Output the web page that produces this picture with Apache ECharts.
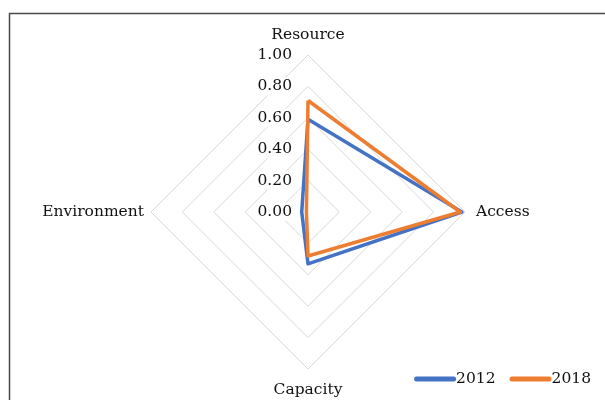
<!DOCTYPE html>
<html>
<head>
<meta charset="utf-8">
<script src="https://cdn.jsdelivr.net/npm/echarts@6/dist/echarts.min.js"></script>
<style>
html,body{margin:0;padding:0;background:#fff;}
#chart{width:605px;height:400px;}
</style>
</head>
<body>
<div id="chart"></div>
<script>
// categories in clockwise order starting from the top
const categories = ['Resource', 'Access', 'Capacity', 'Environment'];
const values2012 = [0.59, 0.98, 0.33, 0.04];
const values2018 = [0.71, 0.97, 0.28, 0.01];
const seriesNames = ['2012', '2018'];
const tickLabels = ['0.00', '0.20', '0.40', '0.60', '0.80', '1.00'];

// ECharts places indicators counter-clockwise; reorder to get clockwise layout
const order = [0, 3, 2, 1];
const ordered = arr => order.map(i => arr[i]);
const nameGaps = [12, 11, 13, 7]; // per original category order

const FONT = 'DejaVu Serif';
const chart = echarts.init(document.getElementById('chart'));
const indicator = order.map((ci, i) => {
  const ind = { name: categories[ci], min: 0, max: 1, nameGap: nameGaps[ci] };
  if (i === 0) {
    ind.axisLabel = {
      show: true,
      margin: 14,
      fontFamily: FONT,
      fontSize: 15.5,
      color: '#111',
      backgroundColor: '#fff',
      padding: [1, 2],
      formatter: (v, idx) => tickLabels[idx]
    };
  }
  return ind;
});

chart.setOption({
  backgroundColor: '#fff',
  animation: false,
  graphic: [{
    type: 'rect',
    shape: { x: 9.5, y: 13.5, width: 700, height: 500 },
    style: { fill: 'none', stroke: '#4a4a4a', lineWidth: 1.5 },
    silent: true
  }],
  legend: {
    data: seriesNames,
    right: 9,
    top: 366,
    itemWidth: 42,
    itemHeight: 5,
    itemGap: 14,
    icon: 'path://M2.5,0 L39.5,0 A2.5,2.5 0 0 1 39.5,5 L2.5,5 A2.5,2.5 0 0 1 2.5,0 Z',
    textStyle: { fontFamily: FONT, fontSize: 15.5, color: '#111', padding: [0, 0, 0, -5] }
  },
  radar: {
    center: [308, 212],
    radius: 157,
    shape: 'polygon',
    splitNumber: 5,
    indicator: indicator,
    nameGap: 10,
    axisName: { fontFamily: FONT, fontSize: 15.5, color: '#111' },
    axisLine: { show: false },
    axisTick: { show: false },
    axisLabel: { show: false },
    splitLine: { lineStyle: { color: '#d9d9d9', width: 1 } },
    splitArea: { show: false }
  },
  series: [{
    type: 'radar',
    symbol: 'none',
    data: [
      { name: seriesNames[0], value: ordered(values2012),
        lineStyle: { color: '#4472c4', width: 3.5 }, itemStyle: { color: '#4472c4' } },
      { name: seriesNames[1], value: ordered(values2018),
        lineStyle: { color: '#ed7d31', width: 3.5 }, itemStyle: { color: '#ed7d31' } }
    ]
  }]
});
</script>
</body>
</html>
